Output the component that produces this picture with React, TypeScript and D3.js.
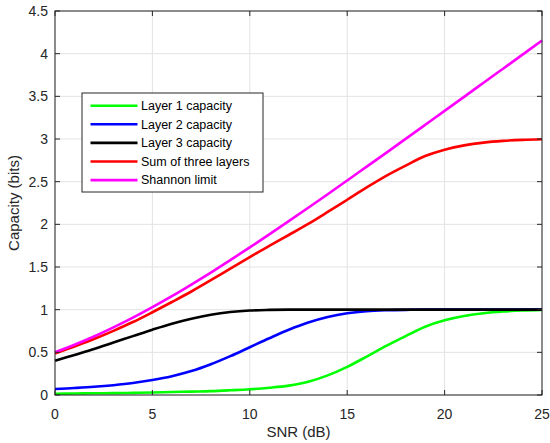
import React, { useRef, useEffect } from "react";
import * as d3 from "d3";

const snr = [0, 1, 2, 3, 4, 5, 6, 7, 8, 9, 10, 11, 12, 13, 14, 15, 16, 17, 18, 19, 20, 21, 22, 23, 24, 25];

const layer1 = [0.015, 0.017, 0.02, 0.022, 0.025, 0.03, 0.035, 0.04, 0.045, 0.055, 0.067, 0.085, 0.11, 0.155, 0.23, 0.33, 0.45, 0.575, 0.69, 0.8, 0.875, 0.925, 0.958, 0.978, 0.99, 0.997];
const layer2 = [0.07, 0.082, 0.096, 0.115, 0.14, 0.175, 0.22, 0.28, 0.36, 0.455, 0.56, 0.665, 0.765, 0.85, 0.915, 0.958, 0.982, 0.993, 0.998, 1.0, 1.0, 1.0, 1.0, 1.0, 1.0, 1.0];
const layer3 = [0.4, 0.47, 0.54, 0.615, 0.69, 0.765, 0.835, 0.893, 0.94, 0.972, 0.99, 0.997, 1.0, 1.0, 1.0, 1.0, 1.0, 1.0, 1.0, 1.0, 1.0, 1.0, 1.0, 1.0, 1.0, 1.0];
const sumLayers = [0.485, 0.569, 0.656, 0.752, 0.855, 0.97, 1.09, 1.213, 1.345, 1.482, 1.617, 1.747, 1.875, 2.005, 2.145, 2.288, 2.432, 2.568, 2.688, 2.8, 2.875, 2.925, 2.958, 2.978, 2.99, 2.997];
const shannon = [0.5, 0.588, 0.685, 0.792, 0.906, 1.029, 1.158, 1.294, 1.435, 1.581, 1.73, 1.882, 2.037, 2.194, 2.353, 2.514, 2.676, 2.838, 3.001, 3.165, 3.329, 3.494, 3.659, 3.824, 3.989, 4.155];

const seriesNames = ["Layer 1 capacity", "Layer 2 capacity", "Layer 3 capacity", "Sum of three layers", "Shannon limit"];
const seriesColors = ["#00ff00", "#0000ff", "#000000", "#ff0000", "#ff00ff"];
const seriesValues = [layer1, layer2, layer3, sumLayers, shannon];

const xTicks = [0, 5, 10, 15, 20, 25];
const yTicks = [0, 0.5, 1, 1.5, 2, 2.5, 3, 3.5, 4, 4.5];

const App = () => {
  const svgRef = useRef();

  useEffect(() => {
    const W = 550;
    const H = 443;
    const margin = { top: 11, right: 8, bottom: 48, left: 55 };
    const width = W - margin.left - margin.right;
    const height = H - margin.top - margin.bottom;
    const font = "'Liberation Sans', Arial, sans-serif";
    const axisColor = "#262626";

    const root = d3.select(svgRef.current);
    root.selectAll("*").remove();
    root.append("rect").attr("width", W).attr("height", H).attr("fill", "#fff");

    const svg = root.append("g").attr("transform", `translate(${margin.left},${margin.top})`);

    const x = d3.scaleLinear().domain([0, 25]).range([0, width]);
    const y = d3.scaleLinear().domain([0, 4.5]).range([height, 0]);

    // grid
    svg
      .selectAll(".gx")
      .data(xTicks)
      .enter()
      .append("line")
      .attr("x1", (d) => x(d))
      .attr("x2", (d) => x(d))
      .attr("y1", 0)
      .attr("y2", height)
      .attr("stroke", "#e3e3e3")
      .attr("stroke-width", 1);
    svg
      .selectAll(".gy")
      .data(yTicks)
      .enter()
      .append("line")
      .attr("x1", 0)
      .attr("x2", width)
      .attr("y1", (d) => y(d))
      .attr("y2", (d) => y(d))
      .attr("stroke", "#e3e3e3")
      .attr("stroke-width", 1);

    // lines
    const line = d3
      .line()
      .x((d, i) => x(snr[i]))
      .y((d) => y(d))
      .curve(d3.curveCatmullRom.alpha(0.5));

    seriesValues.forEach((vals, k) => {
      svg
        .append("path")
        .datum(vals)
        .attr("fill", "none")
        .attr("stroke", seriesColors[k])
        .attr("stroke-width", 2.6)
        .attr("d", line);
    });

    // box
    svg
      .append("rect")
      .attr("x", 0)
      .attr("y", 0)
      .attr("width", width)
      .attr("height", height)
      .attr("fill", "none")
      .attr("stroke", axisColor)
      .attr("stroke-width", 1);

    // inward ticks on all sides
    const tl = 5;
    xTicks.forEach((t) => {
      svg.append("line").attr("x1", x(t)).attr("x2", x(t)).attr("y1", height).attr("y2", height - tl).attr("stroke", axisColor);
      svg.append("line").attr("x1", x(t)).attr("x2", x(t)).attr("y1", 0).attr("y2", tl).attr("stroke", axisColor);
    });
    yTicks.forEach((t) => {
      svg.append("line").attr("x1", 0).attr("x2", tl).attr("y1", y(t)).attr("y2", y(t)).attr("stroke", axisColor);
      svg.append("line").attr("x1", width).attr("x2", width - tl).attr("y1", y(t)).attr("y2", y(t)).attr("stroke", axisColor);
    });

    // tick labels
    svg
      .selectAll(".xl")
      .data(xTicks)
      .enter()
      .append("text")
      .attr("x", (d) => x(d))
      .attr("y", height + 24)
      .attr("text-anchor", "middle")
      .attr("font-family", font)
      .attr("font-size", 14)
      .attr("fill", axisColor)
      .text((d) => d);
    svg
      .selectAll(".yl")
      .data(yTicks)
      .enter()
      .append("text")
      .attr("x", -7)
      .attr("y", (d) => y(d))
      .attr("dy", "0.36em")
      .attr("text-anchor", "end")
      .attr("font-family", font)
      .attr("font-size", 14)
      .attr("fill", axisColor)
      .text((d) => d);

    // axis titles
    svg
      .append("text")
      .attr("x", width / 2)
      .attr("y", height + 42)
      .attr("text-anchor", "middle")
      .attr("font-family", font)
      .attr("font-size", 15)
      .attr("fill", axisColor)
      .text("SNR (dB)");
    svg
      .append("text")
      .attr("transform", `translate(${-36},${height / 2}) rotate(-90)`)
      .attr("text-anchor", "middle")
      .attr("font-family", font)
      .attr("font-size", 15)
      .attr("fill", axisColor)
      .text("Capacity (bits)");

    // legend
    const lg = root.append("g").attr("transform", "translate(82,93)");
    lg.append("rect")
      .attr("width", 181)
      .attr("height", 99)
      .attr("fill", "#fff")
      .attr("stroke", axisColor)
      .attr("stroke-width", 1);
    seriesNames.forEach((name, k) => {
      const yy = 12.7 + k * 18.6;
      lg.append("line")
        .attr("x1", 8.5)
        .attr("x2", 55.5)
        .attr("y1", yy)
        .attr("y2", yy)
        .attr("stroke", seriesColors[k])
        .attr("stroke-width", 2.6);
      lg.append("text")
        .attr("x", 59)
        .attr("y", yy)
        .attr("dy", "0.35em")
        .attr("font-family", font)
        .attr("font-size", 12.5)
        .attr("fill", "#000")
        .text(name);
    });
  }, []);

  return (
    <svg
      ref={svgRef}
      width={550}
      height={443}
      style={{ position: "absolute", left: 0, top: 0 }}
    ></svg>
  );
};

export default App;
